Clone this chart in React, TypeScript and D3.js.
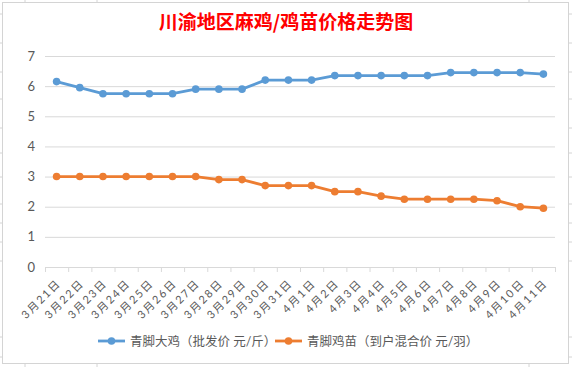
import * as d3 from "d3";
import React, { useEffect } from "react";

const dates = [
	"3月21日", "3月22日", "3月23日", "3月24日", "3月25日", "3月26日", "3月27日", "3月28日",
	"3月29日", "3月30日", "3月31日", "4月1日", "4月2日", "4月3日", "4月4日", "4月5日",
	"4月6日", "4月7日", "4月8日", "4月9日", "4月10日", "4月11日",
];
const chickenPrice = [
	6.15, 5.95, 5.75, 5.75, 5.75, 5.75, 5.9, 5.9, 5.9, 6.2, 6.2,
	6.2, 6.35, 6.35, 6.35, 6.35, 6.35, 6.45, 6.45, 6.45, 6.45, 6.4,
];
const chickPrice = [
	3.0, 3.0, 3.0, 3.0, 3.0, 3.0, 3.0, 2.9, 2.9, 2.7, 2.7,
	2.7, 2.5, 2.5, 2.35, 2.25, 2.25, 2.25, 2.25, 2.2, 2.0, 1.95,
];
const yTicks = [0, 1, 2, 3, 4, 5, 6, 7];
const seriesNames = ["青脚大鸡（批发价 元/斤）", "青脚鸡苗（到户混合价 元/羽）"];
const colors = ["#5B9BD5", "#ED7D31"];

const W = 572, H = 367;
const plot = { left: 45, right: 555, top: 56, bottom: 267 };
const font = "Lato, 'Noto Sans CJK SC', sans-serif";
const grey = "#595959";

const App = () => {
	useEffect(() => {
		document.body.style.margin = "0";
	}, []);

	const x = d3.scaleBand().domain(dates).range([plot.left, plot.right]);
	const y = d3.scaleLinear().domain([0, 7]).range([plot.bottom, plot.top]);
	const cx = (d: string) => x(d)! + x.bandwidth() / 2;

	const line = d3
		.line<number>()
		.x((_, i) => cx(dates[i]))
		.y((v) => y(v));

	const series = [chickenPrice, chickPrice];
	const bounds = [...dates.map((d) => x(d)!), plot.right];

	// faint sheet cell edges outside the chart box
	const sideTicks = [14, 43, 72, 99, 128, 153, 177, 204, 223, 242, 261, 337, 357];
	const topTicks = [25, 97, 529];

	return (
		<svg width={W} height={H} style={{ display: "block" }}>
			<rect width={W} height={H} fill="#fff" />
			{sideTicks.map((t) => (
				<g key={"s" + t} stroke="#d4d4d4">
					<line x1={0} x2={3} y1={t} y2={t} />
					<line x1={569} x2={572} y1={t} y2={t} />
				</g>
			))}
			{topTicks.map((t) => (
				<g key={"t" + t} stroke="#d4d4d4">
					<line x1={t} x2={t} y1={0} y2={2} />
					<line x1={t} x2={t} y1={364} y2={367} />
				</g>
			))}
			<rect x={2.5} y={2.5} width={566} height={361} fill="#fff" stroke="#d4d4d4" />

			<text
				x={286}
				y={29}
				textAnchor="middle"
				fill="#FF0000"
				fontSize={19}
				fontWeight="bold"
				fontFamily="'Noto Sans CJK SC', sans-serif"
			>
				川渝地区麻鸡/鸡苗价格走势图
			</text>

			{yTicks.map((t) => (
				<g key={t}>
					{t > 0 && (
						<line x1={plot.left} x2={plot.right} y1={y(t) + 0.5} y2={y(t) + 0.5} stroke="#D9D9D9" />
					)}
					<text x={35} y={y(t) + 4.5} textAnchor="end" fill={grey} fontSize={13} fontFamily={font}>
						{t}
					</text>
				</g>
			))}
			<line x1={plot.left} x2={plot.right} y1={plot.bottom + 0.5} y2={plot.bottom + 0.5} stroke="#D9D9D9" />
			{bounds.map((b, i) => (
				<line key={i} x1={b + 0.5} x2={b + 0.5} y1={plot.bottom} y2={plot.bottom + 5} stroke="#D9D9D9" />
			))}
			{dates.map((d) => (
				<text
					key={d}
					transform={`translate(${cx(d) + 3},${plot.bottom + 15}) rotate(-45)`}
					textAnchor="end"
					dominantBaseline="middle"
					fill={grey}
					fontSize={11}
					letterSpacing={1.8}
					fontFamily={font}
				>
					{d}
				</text>
			))}

			{series.map((s, k) => (
				<g key={k}>
					<path d={line(s)!} fill="none" stroke={colors[k]} strokeWidth={2.8} strokeLinejoin="round" />
					{s.map((v, i) => (
						<circle key={i} cx={cx(dates[i])} cy={y(v)} r={3.8} fill={colors[k]} />
					))}
				</g>
			))}

			{seriesNames.map((n, k) => {
				const lx = k === 0 ? 98 : 275;
				return (
					<g key={n}>
						<line x1={lx} x2={lx + 27} y1={341} y2={341} stroke={colors[k]} strokeWidth={2.8} />
						<circle cx={lx + 13.5} cy={341} r={3.8} fill={colors[k]} />
						<text x={lx + 32} y={345.5} fill={grey} fontSize={12.5} fontFamily={font}>
							{n}
						</text>
					</g>
				);
			})}
		</svg>
	);
};

export default App;
